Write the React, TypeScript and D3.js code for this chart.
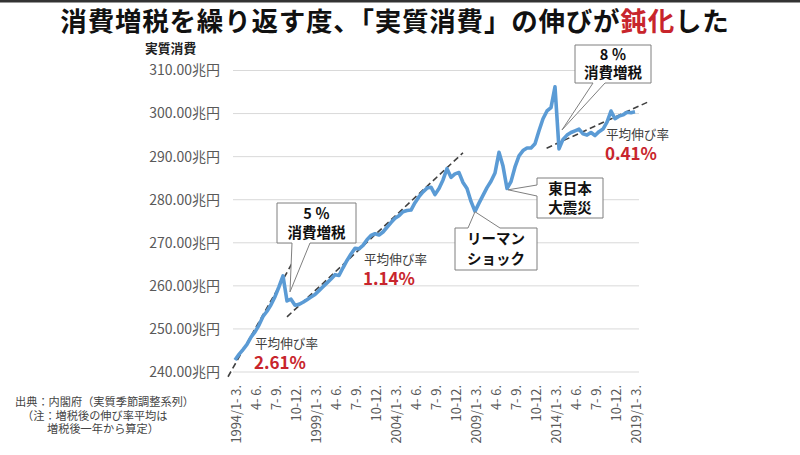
import * as d3 from "d3";
import { useEffect, useRef } from "react";

// quarterly real consumption, 1994 Q1 .. 2019 Q1 (trillion yen)
const values = [
  242.8, 244.1, 245.2, 246.4, 248.1, 249.3, 250.9, 252.9, 254.1, 255.6,
  257.5, 259.8, 262.3, 256.5, 256.9, 255.5, 255.7, 256.2, 256.8, 257.4,
  258.0, 258.9, 259.8, 260.7, 261.6, 262.6, 262.4, 264.2, 265.9, 267.4,
  268.7, 268.6, 269.4, 270.7, 271.7, 272.1, 271.8, 272.5, 273.6, 274.7,
  275.7, 276.3, 277.2, 277.5, 277.6, 279.3, 280.7, 281.8, 282.7, 282.9,
  281.2, 282.6, 284.6, 287.2, 285.2, 286.0, 286.3, 284.0, 282.6, 279.6,
  277.3, 279.2, 281.0, 282.8, 284.3, 286.2, 291.0, 287.8, 282.6, 284.2,
  287.6, 290.2, 291.4, 292.0, 292.0, 293.0, 296.0, 298.8, 300.6, 301.4,
  306.2, 291.8, 294.0, 295.0, 295.6, 296.0, 296.4, 295.3, 295.0, 295.6,
  294.9, 295.8, 296.4, 298.0, 300.6, 298.8, 299.4, 299.7, 300.3, 300.2,
  300.4,
];

const yTicks = [240, 250, 260, 270, 280, 290, 300, 310];
const quarterNames = ["1- 3.", "4- 6.", "7- 9.", "10-12."];
const startYear = 1994;

// trend segments [quarter index, value]
const trends: [number, number][][] = [
  [[-1.75, 238.9], [14.5, 265.6]],
  [[13, 252.8], [57, 290.9]],
  [[77.9, 291.95], [103.75, 302.9]],
];

const rates = [
  { label: "2.61%", x: 254, y: 344 },
  { label: "1.14%", x: 363, y: 260 },
  { label: "0.41%", x: 605, y: 135 },
];

type Callout = {
  lines: string[];
  box: [number, number, number, number];
  tip: [number, number]; // quarter index, value
  side: "top" | "bottom" | "left";
  base: [number, number];
};

const callouts: Callout[] = [
  { lines: ["5 ％", "消費増税"], box: [277, 203, 356, 243], tip: [13.75, 258.6], side: "bottom", base: [292, 310] },
  { lines: ["リーマン", "ショック"], box: [455, 228, 537, 270], tip: [60, 277.2], side: "top", base: [468, 500] },
  { lines: ["東日本", "大震災"], box: [537, 178, 603, 218], tip: [68.25, 282.3], side: "left", base: [185, 196] },
  { lines: ["8 ％", "消費増税"], box: [575, 45, 651, 83], tip: [81.75, 296.2], side: "bottom", base: [593, 605] },
];

const FONT = "'Noto Sans CJK JP', 'Noto Sans', sans-serif";
const RED = "#c8252c";

function calloutPath(c: Callout, tx: number, ty: number) {
  const [x0, y0, x1, y1] = c.box;
  const [a1, a2] = c.base;
  if (c.side === "bottom")
    return `M${x0},${y0}H${x1}V${y1}H${a2}L${tx},${ty}L${a1},${y1}H${x0}Z`;
  if (c.side === "top")
    return `M${x0},${y0}H${a1}L${tx},${ty}L${a2},${y0}H${x1}V${y1}H${x0}Z`;
  return `M${x0},${y0}H${x1}V${y1}H${x0}V${a2}L${tx},${ty}L${x0},${a1}Z`;
}

export default function App() {
  const ref = useRef<SVGSVGElement | null>(null);

  useEffect(() => {
    if (!ref.current) return;
    const svg = d3.select(ref.current);
    svg.selectAll("*").remove();

    const x = d3.scaleLinear().domain([0, 100]).range([235, 635]);
    const y = d3.scaleLinear().domain([240, 310]).range([372, 70.5]);

    svg.append("rect").attr("width", 800).attr("height", 455).attr("fill", "#fff");
    svg.append("rect").attr("width", 800).attr("height", 2.5).attr("fill", "#333");

    // title
    const title = svg
      .append("text")
      .attr("x", 395)
      .attr("y", 31)
      .attr("text-anchor", "middle")
      .attr("font-size", 26.5)
      .attr("letter-spacing", 0.8)
      .attr("font-weight", "bold")
      .attr("fill", "#111");
    title.append("tspan").text("消費増税を繰り返す度、「実質消費」の伸びが");
    title.append("tspan").attr("fill", RED).text("鈍化");
    title.append("tspan").text("した");

    svg
      .append("text")
      .attr("x", 145)
      .attr("y", 49)
      .attr("dy", "0.35em")
      .attr("font-size", 12.8)
      .attr("font-weight", "bold")
      .attr("fill", "#222")
      .text("実質消費");

    // grid + y labels
    svg
      .append("g")
      .selectAll("line")
      .data(yTicks)
      .join("line")
      .attr("x1", x(-0.5))
      .attr("x2", x(101))
      .attr("y1", (d) => y(d))
      .attr("y2", (d) => y(d))
      .attr("stroke", "#d9d9d9")
      .attr("stroke-width", 1);

    svg
      .append("g")
      .selectAll("text")
      .data(yTicks)
      .join("text")
      .attr("x", 220)
      .attr("y", (d) => y(d))
      .attr("dy", "0.35em")
      .attr("text-anchor", "end")
      .attr("font-size", 14)
      .attr("fill", "#595959")
      .text((d) => `${d.toFixed(2)}兆円`);

    // x labels every 5 quarters
    const xIdx = d3.range(0, values.length, 5);
    svg
      .append("g")
      .selectAll("text")
      .data(xIdx)
      .join("text")
      .attr("transform", (i) => `translate(${x(i) + 2},385) rotate(-90)`)
      .attr("dy", "0.35em")
      .attr("text-anchor", "end")
      .attr("font-size", 12.8)
      .attr("fill", "#595959")
      .text((i) =>
        i % 4 === 0 ? `${startYear + i / 4}/${quarterNames[0]}` : quarterNames[i % 4]
      );

    // trend lines
    svg
      .append("g")
      .selectAll("path")
      .data(trends)
      .join("path")
      .attr("d", (d) => d3.line<[number, number]>().x((p) => x(p[0])).y((p) => y(p[1]))(d))
      .attr("fill", "none")
      .attr("stroke", "#404040")
      .attr("stroke-width", 1.6)
      .attr("stroke-dasharray", "6,3.5");

    // series
    svg
      .append("path")
      .datum(values)
      .attr(
        "d",
        d3
          .line<number>()
          .x((_, i) => x(i))
          .y((d) => y(d))
      )
      .attr("fill", "none")
      .attr("stroke", "#5b9bd5")
      .attr("stroke-width", 3.6)
      .attr("stroke-linejoin", "round");

    // rate labels
    rates.forEach((r) => {
      svg
        .append("text")
        .attr("x", r.x + 1)
        .attr("y", r.y)
        .attr("dy", "0.35em")
        .attr("font-size", 12.6)
        .attr("fill", "#404040")
        .text("平均伸び率");
      svg
        .append("text")
        .attr("x", r.x)
        .attr("y", r.y + 19)
        .attr("dy", "0.35em")
        .attr("font-size", 17)
        .attr("font-weight", "bold")
        .attr("fill", RED)
        .text(r.label);
    });

    // callouts
    callouts.forEach((c) => {
      const g = svg.append("g");
      g.append("path")
        .attr("d", calloutPath(c, x(c.tip[0]), y(c.tip[1])))
        .attr("fill", "#fff")
        .attr("stroke", "#7f7f7f")
        .attr("stroke-width", 1);
      const [x0, y0, x1, y1] = c.box;
      const cx = (x0 + x1) / 2;
      const h = y1 - y0;
      c.lines.forEach((t, k) => {
        g.append("text")
          .attr("x", cx)
          .attr("y", y0 + h * (k === 0 ? 0.27 : 0.74))
          .attr("dy", "0.35em")
          .attr("text-anchor", "middle")
          .attr("font-size", 14.5)
          .attr("font-weight", "bold")
          .attr("fill", "#111")
          .text(t);
      });
    });

    // source note
    const notes = [
      { t: "出典：内閣府（実質季節調整系列）", x: 15, y: 402.5 },
      { t: "（注：増税後の伸び率平均は", x: 22, y: 416 },
      { t: "増税後一年から算定）", x: 47, y: 429.5 },
    ];
    svg
      .append("g")
      .selectAll("text")
      .data(notes)
      .join("text")
      .attr("x", (d) => d.x)
      .attr("y", (d) => d.y)
      .attr("dy", "0.35em")
      .attr("font-size", 11.2)
      .attr("fill", "#444")
      .text((d) => d.t);
  }, []);

  return (
    <svg
      ref={ref}
      width={800}
      height={455}
      style={{ position: "absolute", left: 0, top: 0, fontFamily: FONT }}
    />
  );
}
